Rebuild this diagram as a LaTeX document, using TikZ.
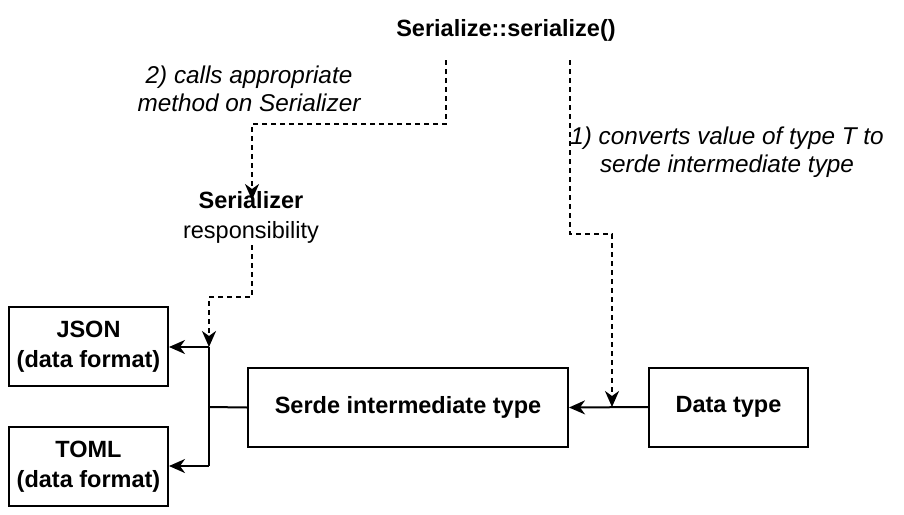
\documentclass[tikz,border=0pt]{standalone}
\usepackage{fontspec}
\setmainfont{Liberation Sans}
\usetikzlibrary{arrows.meta}
\begin{document}
\begin{tikzpicture}[x=1pt,y=-1pt,
  box/.style={draw,line width=2pt,minimum width=#1,minimum height=79pt,inner sep=0pt,align=center,font=\fontsize{23.5}{30}\selectfont\bfseries},
  lbl/.style={inner sep=0pt,align=center,font=\fontsize{24.3}{28.5}\selectfont\itshape},
  conn/.style={line width=2pt,-{Stealth[length=16pt,width=14pt,inset=5pt]}},
  dconn/.style={conn,dash pattern=on 5pt off 4pt},
  plain/.style={line width=2pt}]
\useasboundingbox (0,0) rectangle (904,514);
\node[box=159pt] (json) at (88.5,346.5) {JSON\\(data format)};
\node[box=159pt] (toml) at (88.5,466.5) {TOML\\(data format)};
\node[box=320pt] (serde) at (408,407.5) {Serde intermediate type};
\node[box=159pt] (data) at (728.5,407) {Data type};
\node[inner sep=0pt,font=\fontsize{23.5}{28}\selectfont\bfseries] (ser) at (506,30) {Serialize::serialize()};
\node[inner sep=0pt,align=center,font=\fontsize{23.5}{30}\selectfont] (serz) at (251,217) {\textbf{Serializer}\\responsibility};
\node[lbl] (l2) at (249,89) {2) calls appropriate\\method on Serializer};
\node[lbl] (l1) at (727,152) {1) converts value of type T to\\serde intermediate type};
\coordinate (j) at (209,407);
\coordinate (jt) at (209,347);
\coordinate (jb) at (209,466);
\coordinate (dj) at (612,407);
\draw[plain] (serde.west) -- (j);
\draw[plain] (jt) -- (jb);
\draw[conn] (jt) -- (json.east |- jt);
\draw[conn] (jb) -- (toml.east |- jb);
\draw[conn] (data.west) -- (serde.east);
\draw[dconn] (446,60) -- (446,124) -- (252,124) -- (252,200);
\draw[dconn] (252,245) -- (252,297) -- (209,297) -- (jt);
\draw[dconn] (570,60) -- (570,234) -- (612,234) -- (dj);
\end{tikzpicture}
\end{document}
